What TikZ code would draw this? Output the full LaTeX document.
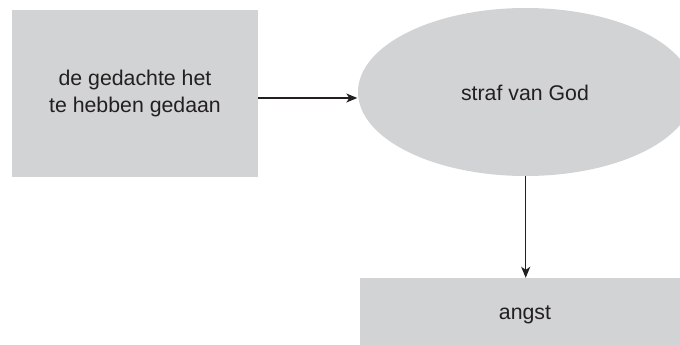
\documentclass[tikz,border=0pt]{standalone}
\usepackage{fontspec}
\setmainfont{Liberation Sans}
\usetikzlibrary{arrows.meta,shapes.geometric}
\definecolor{boxgray}{HTML}{D1D3D4}
\definecolor{ink}{HTML}{231F20}
\tikzset{
  lbl/.style={font=\fontsize{21.3}{26.5}\selectfont, text=ink, align=center},
  graybox/.style={lbl, fill=boxgray, draw=none, rectangle, inner sep=0pt},
  grayell/.style={lbl, fill=boxgray, draw=none, ellipse, inner sep=0pt},
  arr/.style={draw=ink, line width=1.1pt, -{Stealth[length=11pt,width=9pt,inset=3pt]}}
}
\begin{document}
\begin{tikzpicture}[x=1pt,y=-1pt]
\useasboundingbox (0,0) rectangle (680,345);
\clip (0,0) rectangle (680,345);
\node[graybox, minimum width=246pt, minimum height=167pt] (a) at (135,93.5) {de gedachte het\\te hebben gedaan};
\node[grayell, minimum width=335.4pt, minimum height=168pt] (b) at (525.7,92) {};
\node[lbl] (bt) at (525,93) {straf van God};
\node[graybox, minimum width=331pt, minimum height=76pt] (c) at (525.7,316) {};
\node[lbl] (ct) at (525,315) {angst};
\draw[arr] ([yshift=-4.5pt]a.east) -- ([yshift=-6pt,xshift=-0.5pt]b.west);
\draw[arr] (b.south) -- (c.north);
\end{tikzpicture}
\end{document}
